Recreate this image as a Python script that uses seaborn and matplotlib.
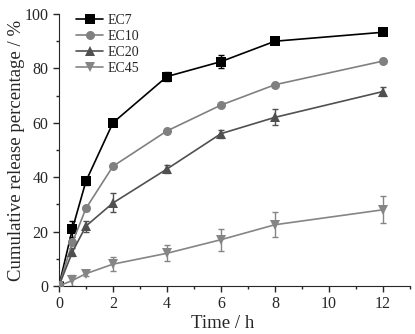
import numpy as np
import pandas as pd
import matplotlib
matplotlib.use("Agg")
import matplotlib.pyplot as plt
from matplotlib.ticker import MultipleLocator
import seaborn as sns

TIME = [0, 0.5, 1, 2, 4, 6, 8, 12]
SERIES = ["EC7", "EC10", "EC20", "EC45"]
EC7 = [0, 21.0, 38.5, 60.0, 77.0, 82.5, 90.0, 93.3]
EC10 = [0, 16.0, 28.5, 44.0, 57.0, 66.5, 74.0, 82.7]
EC20 = [0, 12.5, 22.0, 30.5, 43.0, 56.0, 62.0, 71.5]
EC45 = [0, 2.0, 4.5, 8.0, 12.0, 17.0, 22.5, 28.0]
EC7_ERR = [0, 3.0, 1.5, 1.0, 1.5, 2.4, 1.0, 0.5]
EC10_ERR = [0, 0.8, 0.8, 0.8, 0.8, 0.8, 0.8, 0.8]
EC20_ERR = [0, 1.5, 2.0, 3.5, 1.5, 1.5, 3.0, 1.5]
EC45_ERR = [0, 2.0, 1.0, 2.5, 3.0, 4.0, 4.5, 5.0]

vals = {"EC7": EC7, "EC10": EC10, "EC20": EC20, "EC45": EC45}
errs = {"EC7": EC7_ERR, "EC10": EC10_ERR, "EC20": EC20_ERR, "EC45": EC45_ERR}
colors = {"EC7": "#000000", "EC10": "#808080", "EC20": "#505050", "EC45": "#858585"}
markers = {"EC7": "s", "EC10": "o", "EC20": "^", "EC45": "v"}

df = pd.DataFrame([(s, t, v, e) for s in SERIES for t, v, e in zip(TIME, vals[s], errs[s])],
                  columns=["sample", "time", "release", "err"])

sns.set_style("ticks")
plt.rcParams["font.family"] = ["Liberation Serif", "DejaVu Serif"]
fig = plt.figure(figsize=(4.15, 3.34), dpi=100)
ax = fig.add_axes([0.142, 0.144, 0.846, 0.814])

for s in SERIES:
    sub = df[df["sample"] == s]
    ax.errorbar(sub["time"], sub["release"], yerr=sub["err"], fmt="none",
                ecolor=colors[s], elinewidth=1, capsize=2.5, capthick=1, zorder=2)

sns.lineplot(data=df, x="time", y="release", hue="sample", style="sample",
             palette=colors, markers=markers, dashes=False, hue_order=SERIES,
             markersize=6.5, markeredgewidth=0, linewidth=1.2, ax=ax, zorder=3)

ax.set_xlim(0, 13)
ax.set_ylim(0, 100)
ax.xaxis.set_major_locator(MultipleLocator(2))
ax.xaxis.set_minor_locator(MultipleLocator(1))
ax.yaxis.set_major_locator(MultipleLocator(20))
ax.yaxis.set_minor_locator(MultipleLocator(10))
ax.tick_params(which="major", direction="out", length=4, width=1, labelsize=11.5)
ax.tick_params(which="minor", direction="out", length=2.5, width=1)
sns.despine(ax=ax)
ax.set_xlabel("Time / h", fontsize=13.5)
ax.xaxis.set_label_coords(0.467, -0.106)
ax.set_ylabel("Cumulative release percentage / %", fontsize=13.5, labelpad=0)

ax.legend(title=None, loc="upper left", bbox_to_anchor=(0.012, 1.045), frameon=False,
          fontsize=10, handlelength=2.0, handletextpad=0.3, labelspacing=0.2)

fig.savefig("out.png", dpi=100)
